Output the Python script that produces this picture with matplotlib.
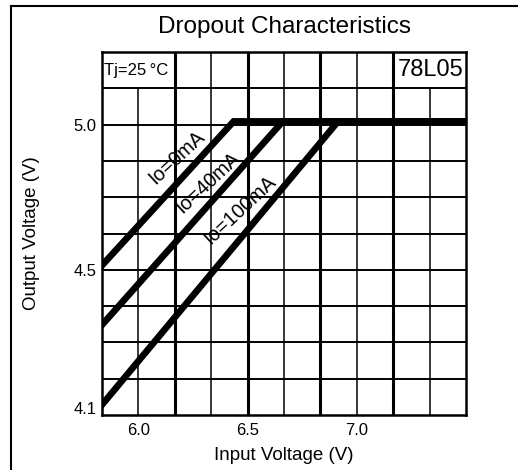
import matplotlib
matplotlib.use("Agg")
import matplotlib.pyplot as plt
from matplotlib.lines import Line2D
import numpy as np

plt.rcParams['font.family'] = ['Liberation Sans', 'DejaVu Sans']

# data
vin_0 = [5.833, 6.436, 7.5]
vout_0 = [4.515, 5.011, 5.011]
vin_40 = [5.833, 6.661, 7.5]
vout_40 = [4.31, 5.011, 5.011]
vin_100 = [5.833, 6.914, 7.5]
vout_100 = [4.035, 5.011, 5.011]

curve_labels = ["Io=0mA", "Io=40mA", "Io=100mA"]
label_x = [6.177, 6.318, 6.466]
label_y = [4.888, 4.800, 4.705]

xticks = [6.0, 6.5, 7.0]
xticklabels = ["6.0", "6.5", "7.0"]
yticks = [4.025, 4.5, 5.0]
yticklabels = ["4.1", "4.5", "5.0"]

xmin, xmax = 5.8333, 7.5
ymin, ymax = 4.0, 5.25

fig = plt.figure(figsize=(5.18, 4.70), dpi=100)
ax = fig.add_axes([102/518, 55/470, 364/518, 363/470])
ax.set_xlim(xmin, xmax)
ax.set_ylim(ymin, ymax)

# grid: 10 columns, 10 rows
xs = np.linspace(xmin, xmax, 11)
ys = np.linspace(ymin, ymax, 11)
for i, x in enumerate(xs[1:-1], start=1):
    top = ys[-2] if i in (1, 9) else ymax
    lw = 2.2 if i % 2 == 0 else 1.1
    ax.plot([x, x], [ymin, top], color='black', lw=lw, solid_capstyle='butt', zorder=1)
for y in ys[1:-1]:
    ax.plot([xmin, xmax], [y, y], color='black', lw=1.4, solid_capstyle='butt', zorder=1)

for xv, yv in [(vin_0, vout_0), (vin_40, vout_40), (vin_100, vout_100)]:
    ax.plot(xv, yv, color='black', lw=4.8, solid_joinstyle='miter', zorder=3)

for lab, lx, ly in zip(curve_labels, label_x, label_y):
    ax.text(lx, ly, lab, rotation=43, fontsize=14.3, ha='center', va='center',
            rotation_mode='anchor', zorder=4)

ax.text(0.006, 0.95, "Tj=25\u2009°C", transform=ax.transAxes, fontsize=12,
        ha='left', va='center')
ax.text(0.994, 0.95, "78L05", transform=ax.transAxes, fontsize=17,
        ha='right', va='center')

ax.set_xticks(xticks)
ax.set_xticklabels(xticklabels, fontsize=12)
ax.set_yticks(yticks)
ax.set_yticklabels(yticklabels, fontsize=12)
ax.tick_params(length=0, pad=6)
ax.tick_params(axis='y', pad=4)

for s in ax.spines.values():
    s.set_linewidth(1.8)

ax.set_xlabel("Input Voltage (V)", fontsize=13.5, labelpad=6)
ax.set_ylabel("Output Voltage (V)", fontsize=13.5, labelpad=24)
ax.text(0.5, 1 + 25/363, "Dropout Characteristics", transform=ax.transAxes,
        fontsize=17.5, ha='center', va='center')

# outer frame (top and left only)
fig.add_artist(Line2D([11/518, 1.0], [1 - 6/470, 1 - 6/470], color='black', lw=1.5))
fig.add_artist(Line2D([11/518, 11/518], [0.0, 1 - 6/470], color='black', lw=1.5))

fig.savefig("out.png", dpi=100)
